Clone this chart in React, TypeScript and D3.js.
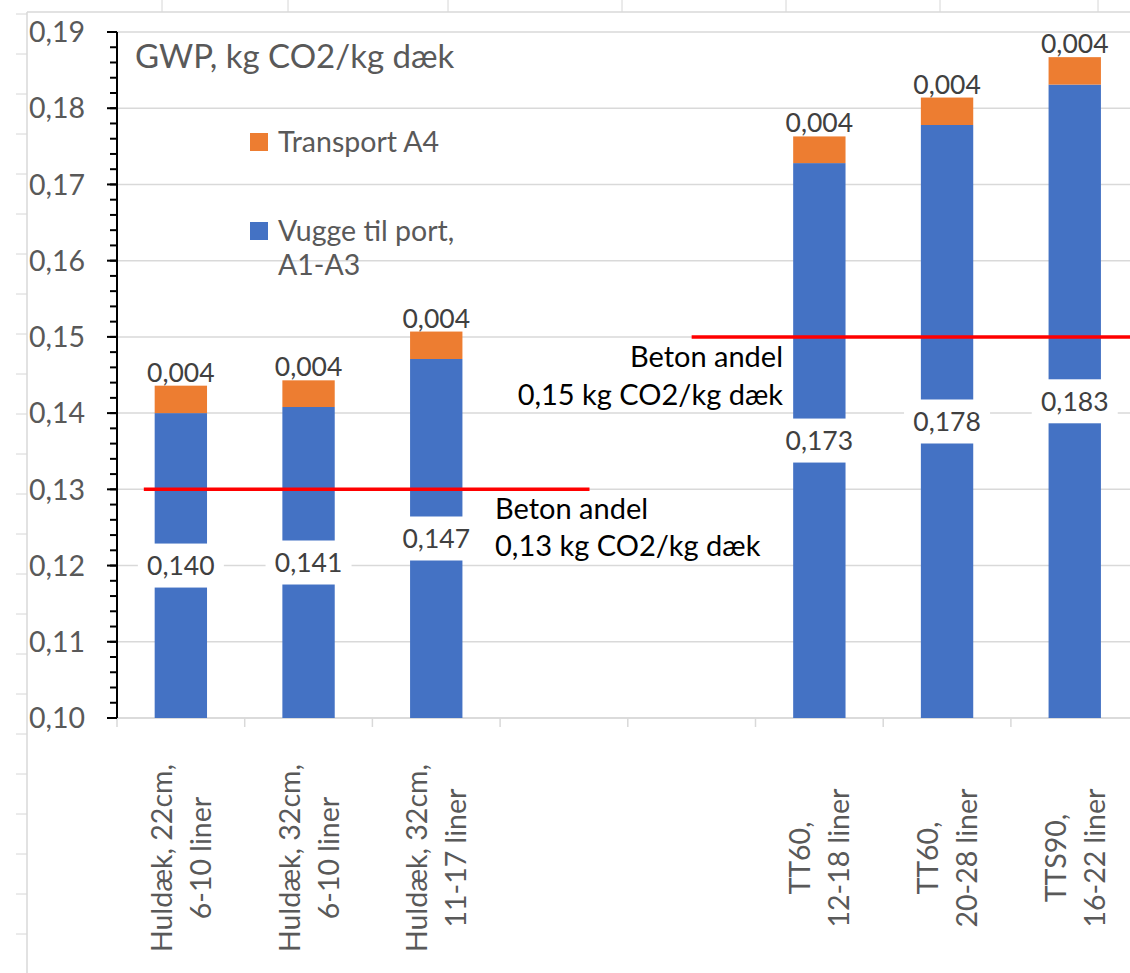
import React from "react";
import * as d3 from "d3";

// ---- data ----
const catLine1 = ["Huldæk, 22cm,", "Huldæk, 32cm,", "Huldæk, 32cm,", "", "", "TT60,", "TT60,", "TTS90,"];
const catLine2 = ["6-10 liner", "6-10 liner", "11-17 liner", "", "", "12-18 liner", "20-28 liner", "16-22 liner"];
const vuggeValues: (number | null)[] = [0.14, 0.1408, 0.1471, null, null, 0.1728, 0.1778, 0.1831];
const transportValues: (number | null)[] = [0.0036, 0.0035, 0.0036, null, null, 0.0035, 0.0036, 0.0036];
const yTicks = [0.1, 0.11, 0.12, 0.13, 0.14, 0.15, 0.16, 0.17, 0.18, 0.19];
const seriesNames = ["Transport A4", "Vugge til port,|A1-A3"];
const refValues = [0.13, 0.15];
const refLabel1 = ["Beton andel", "Beton andel"];
const refLabel2 = ["0,13 kg CO2/kg dæk", "0,15 kg CO2/kg dæk"];

const W = 1130;
const H = 973;
const BLUE = "#4472C4";
const ORANGE = "#ED7D31";
const FONT = "Lato, 'Open Sans', sans-serif";

const fmt = (v: number) => d3.format(".3f")(v).replace(".", ",");
const fmt2 = (v: number) => d3.format(".2f")(v).replace(".", ",");

export default function App() {
  const x0 = 117;
  const step = 127.7;
  const keys = catLine1.map((_, i) => String(i));
  const x = d3.scaleBand<string>().domain(keys).range([x0, x0 + step * keys.length]).padding(0);
  const y = d3.scaleLinear().domain([0.1, 0.19]).range([718, 32]);
  const bw = x.bandwidth() * 0.41;
  const minorTicks = d3.range(0.1, 0.19 + 1e-9, 0.002);
  const xu = (u: number) => x0 + u * x.step();

  // spreadsheet background lines
  const colLines = [162, 288, 448, 622, 786, 940, 1098];
  const rowLines = d3.range(14, H, 40);

  return (
    <svg width={W} height={H} style={{ position: "absolute", left: 0, top: 0, background: "#fff" }} fontFamily={FONT}>
      <rect x={0} y={0} width={W} height={H} fill="#fff" />
      {/* spreadsheet lines peeking out */}
      {colLines.map((cx) => (
        <line key={"c" + cx} x1={cx} x2={cx} y1={0} y2={12} stroke="#d6d6d6" />
      ))}
      {rowLines.map((ry) => (
        <line key={"r" + ry} x1={16} x2={27} y1={ry} y2={ry} stroke="#d6d6d6" />
      ))}
      {/* chart border */}
      <line x1={27} x2={W} y1={12} y2={12} stroke="#d9d9d9" strokeWidth={1.5} />
      <line x1={27} x2={27} y1={12} y2={H} stroke="#d9d9d9" strokeWidth={1.5} />

      {/* gridlines */}
      {yTicks.map((t) => (
        <line key={"g" + t} x1={x0} x2={W} y1={y(t)} y2={y(t)} stroke="#d9d9d9" strokeWidth={1.5} />
      ))}

      {/* x axis */}
      <line x1={x0} x2={W} y1={y(0.1)} y2={y(0.1)} stroke="#d9d9d9" strokeWidth={1.5} />
      {keys.map((k) => (
        <line key={"xt" + k} x1={x(k)!} x2={x(k)!} y1={y(0.1)} y2={y(0.1) + 9} stroke="#d9d9d9" strokeWidth={1.5} />
      ))}

      {/* bars */}
      {keys.map((k, i) => {
        const v = vuggeValues[i];
        const t = transportValues[i];
        if (v == null || t == null) return null;
        const cx = x(k)! + x.bandwidth() / 2;
        return (
          <g key={"b" + k}>
            <rect x={cx - bw / 2} y={y(v)} width={bw} height={y(0.1) - y(v)} fill={BLUE} />
            <rect x={cx - bw / 2} y={y(v + t)} width={bw} height={y(v) - y(v + t)} fill={ORANGE} />
          </g>
        );
      })}

      {/* reference lines */}
      <line x1={xu(0.21)} x2={xu(3.7)} y1={y(refValues[0])} y2={y(refValues[0])} stroke="#FF0000" strokeWidth={3.5} />
      <line x1={xu(4.5)} x2={W} y1={y(refValues[1])} y2={y(refValues[1])} stroke="#FF0000" strokeWidth={3.5} />

      {/* data labels */}
      {keys.map((k, i) => {
        const v = vuggeValues[i];
        const t = transportValues[i];
        if (v == null || t == null) return null;
        const cx = x(k)! + x.bandwidth() / 2;
        const cy = y((0.1 + v) / 2);
        return (
          <g key={"l" + k} fontSize={26.5} fill="#404040">
            <rect x={cx - 43} y={cy - 22} width={86} height={44} fill="#fff" />
            <text x={cx} y={cy} dy="0.36em" textAnchor="middle">{fmt(v)}</text>
            <text x={cx} y={y(v + t) - 4} textAnchor="middle">{fmt(t)}</text>
          </g>
        );
      })}

      {/* y axis */}
      <line x1={x0} x2={x0} y1={y(0.19)} y2={y(0.1)} stroke="#000" strokeWidth={2} />
      {minorTicks.map((t, i) => (
        <line key={"mt" + i} x1={x0 - 7} x2={x0} y1={y(t)} y2={y(t)} stroke="#000" strokeWidth={2} />
      ))}
      {yTicks.map((t) => (
        <g key={"yt" + t}>
          <line x1={x0 - 10} x2={x0} y1={y(t)} y2={y(t)} stroke="#000" strokeWidth={2} />
          <text x={85} y={y(t)} dy="0.36em" textAnchor="end" fontSize={28.5} fill="#595959">{fmt2(t)}</text>
        </g>
      ))}

      {/* category labels */}
      {keys.map((k, i) => {
        if (!catLine1[i]) return null;
        const cx = x(k)! + x.bandwidth() / 2;
        return (
          <text key={"cl" + k} transform={`translate(${cx},858) rotate(-90)`} textAnchor="middle" fontSize={28.5} fill="#595959">
            <tspan x={0} y={-9}>{catLine1[i]}</tspan>
            <tspan x={0} y={30}>{catLine2[i]}</tspan>
          </text>
        );
      })}

      {/* title */}
      <text x={135} y={68} fontSize={33} fill="#595959">GWP, kg CO2/kg dæk</text>

      {/* legend */}
      <g fontSize={28.5} fill="#595959">
        <rect x={250} y={133} width={18} height={18} fill={ORANGE} />
        <text x={278} y={152}>{seriesNames[0]}</text>
        <rect x={250} y={222} width={18} height={18} fill={BLUE} />
        <text x={278} y={241}>{seriesNames[1].split("|")[0]}</text>
        <text x={278} y={275}>{seriesNames[1].split("|")[1]}</text>
      </g>

      {/* reference annotations */}
      <g fontSize={29} fill="#000">
        <text x={495} y={519}>{refLabel1[0]}</text>
        <text x={495} y={556}>{refLabel2[0]}</text>
        <text x={783} y={367} textAnchor="end">{refLabel1[1]}</text>
        <text x={783} y={405} textAnchor="end">{refLabel2[1]}</text>
      </g>
    </svg>
  );
}
